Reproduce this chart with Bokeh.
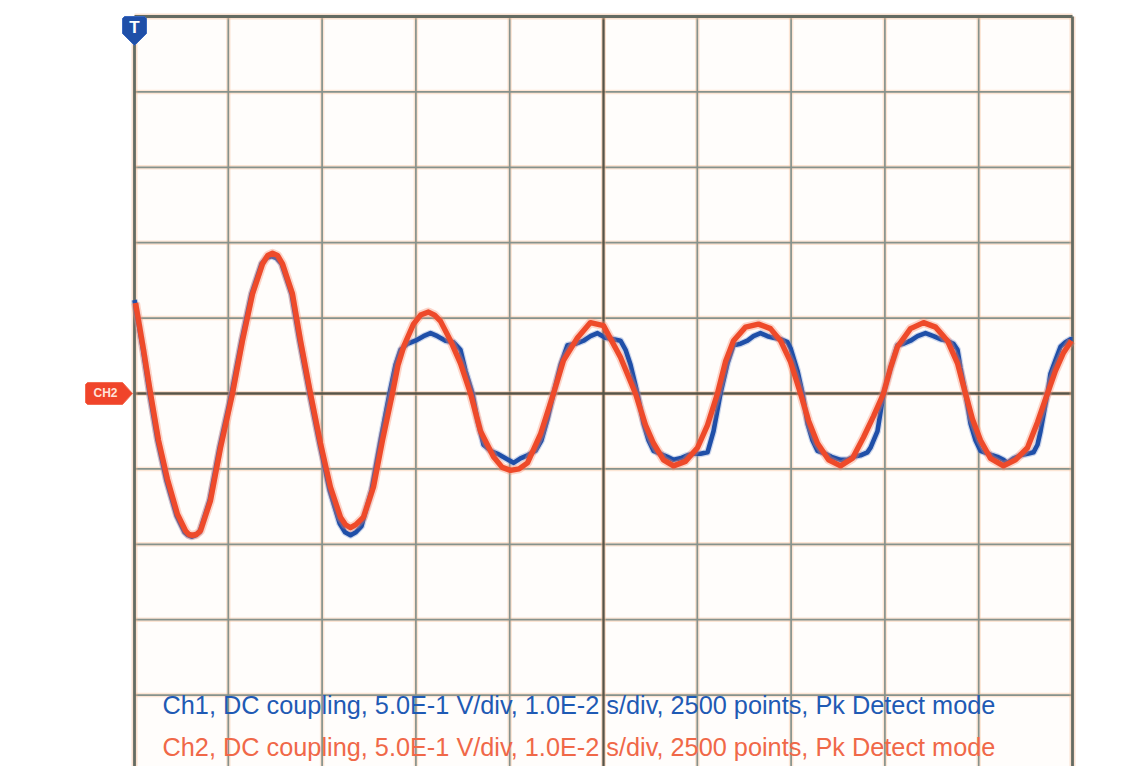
from bokeh.plotting import figure
from bokeh.models import Range1d
from bokeh.core.properties import value
from bokeh.embed import file_html
from bokeh.resources import INLINE

# ---------------- data (time in ms, voltage in V) ----------------
ch1_t = [0.00, 0.90, 1.60, 2.45, 3.41, 4.48, 5.33, 5.70, 6.08, 6.50, 6.93, 8.00, 9.06, 10.34, 11.41, 12.47,
         13.54, 14.10, 14.61, 15.10, 15.67, 16.74, 17.59, 18.66, 19.72, 20.79, 21.86, 22.45, 23.03, 23.60, 24.20, 25.27,
         26.23, 27.19, 27.83, 28.36, 29.10, 29.95, 30.81, 31.56, 32.30, 33.16, 34.01, 34.75,
         35.29, 36.03, 36.57, 37.21, 37.95, 38.70, 39.55, 40.41, 41.15, 41.90, 42.75, 43.39,
         44.03, 44.67, 45.42, 46.16, 47.02, 47.87, 48.61, 49.36, 50.21, 51.07, 51.81, 52.35,
         52.88, 53.62, 54.26, 54.80, 55.33, 56.07, 56.82, 57.46, 58.20, 58.95, 59.59, 60.34,
         61.09, 61.73, 62.47, 63.22, 63.86, 64.61, 65.35, 65.99, 66.74, 67.48, 68.12, 68.87,
         69.62, 69.94, 70.68, 71.22, 71.75, 72.28, 72.81, 73.67, 74.31, 75.27, 76.01, 76.65,
         77.40, 78.14, 78.46, 79.21, 79.85, 80.60, 81.34, 81.98, 82.73, 83.48, 84.33, 85.18,
         85.93, 86.67, 87.31, 87.74, 88.06, 88.59, 89.13, 89.66, 90.19, 91.04, 92.00, 92.64,
         93.07, 93.71, 94.46, 95.20, 95.84, 96.27, 96.59, 97.33, 97.65, 98.18, 98.72, 99.25,
         99.79, 100.00]
ch1_v = [0.62, 0.29, 0.00, -0.31, -0.58, -0.81, -0.92, -0.94, -0.95, -0.94, -0.92, -0.71, -0.36, 0.00, 0.35, 0.66,
         0.86, 0.90, 0.91, 0.90, 0.86, 0.66, 0.35, 0.00, -0.33, -0.64, -0.86, -0.92, -0.94, -0.92, -0.88, -0.64,
         -0.31, 0.00, 0.19, 0.29, 0.33, 0.35, 0.38, 0.40, 0.38, 0.35, 0.34, 0.29,
         0.15, 0.00, -0.18, -0.34, -0.38, -0.40, -0.43, -0.46, -0.43, -0.41, -0.38, -0.31,
         -0.17, 0.00, 0.19, 0.32, 0.33, 0.35, 0.38, 0.40, 0.37, 0.36, 0.35, 0.29,
         0.19, 0.00, -0.20, -0.31, -0.38, -0.40, -0.42, -0.44, -0.43, -0.41, -0.40, -0.40,
         -0.39, -0.25, 0.00, 0.20, 0.32, 0.33, 0.35, 0.38, 0.40, 0.38, 0.37, 0.36,
         0.34, 0.30, 0.15, 0.00, -0.20, -0.31, -0.38, -0.40, -0.42, -0.44, -0.44, -0.42,
         -0.41, -0.39, -0.36, -0.25, 0.00, 0.17, 0.32, 0.33, 0.35, 0.38, 0.40, 0.38,
         0.36, 0.35, 0.33, 0.29, 0.17, 0.00, -0.20, -0.31, -0.38, -0.40, -0.42, -0.44,
         -0.46, -0.43, -0.41, -0.40, -0.39, -0.34, -0.25, 0.00, 0.13, 0.22, 0.31, 0.34,
         0.36, 0.36]

ch2_t = [0.11, 0.96, 1.71, 2.56, 3.52, 4.58, 5.44, 5.80, 6.18, 6.60, 7.04, 8.10, 9.17, 10.45, 11.51, 12.58,
         13.65, 14.20, 14.71, 15.25, 15.78, 16.84, 17.70, 18.76, 19.83, 20.89, 21.96, 22.50, 23.03, 23.60, 24.41, 25.48,
         26.44, 27.50, 28.10, 28.75, 29.74, 30.50, 31.34, 32.00, 32.62, 33.69, 34.75, 35.82, 36.89, 38.27,
         39.20, 40.09, 41.00, 41.90, 43.28, 44.67, 45.74, 47.23, 48.61, 50.00, 51.81, 53.41, 54.48, 55.33,
         56.39, 57.46, 58.74, 60.02, 61.09, 62.15, 63.00, 63.86, 65.14, 66.52, 67.80, 68.87,
         69.94, 71.00, 71.86, 72.81, 73.99, 75.27, 76.55, 77.72, 78.79, 79.85, 80.60, 81.34,
         82.73, 84.12, 85.40, 86.67, 87.74, 88.59, 89.34, 90.19, 91.26, 92.64, 93.92, 95.20,
         96.27, 97.33, 98.18, 99.04, 99.89]
ch2_v = [0.60, 0.29, 0.00, -0.31, -0.57, -0.80, -0.91, -0.935, -0.94, -0.935, -0.91, -0.71, -0.36, 0.00, 0.35, 0.66,
         0.86, 0.915, 0.93, 0.915, 0.86, 0.66, 0.35, 0.00, -0.33, -0.62, -0.82, -0.87, -0.89, -0.87, -0.82, -0.62,
         -0.31, 0.00, 0.19, 0.32, 0.46, 0.52, 0.54, 0.52, 0.48, 0.35, 0.20, 0.00, -0.25, -0.42,
         -0.49, -0.51, -0.50, -0.46, -0.27, 0.00, 0.22, 0.37, 0.47, 0.45, 0.24, 0.00, -0.21, -0.33,
         -0.44, -0.48, -0.45, -0.36, -0.21, 0.00, 0.21, 0.35, 0.44, 0.46, 0.43, 0.35,
         0.21, 0.00, -0.18, -0.33, -0.44, -0.48, -0.43, -0.29, -0.15, 0.00, 0.17, 0.31,
         0.43, 0.47, 0.44, 0.35, 0.20, 0.00, -0.17, -0.31, -0.43, -0.48, -0.44, -0.36,
         -0.19, 0.00, 0.15, 0.27, 0.35]

time_divs = [0, 10, 20, 30, 40, 50, 60, 70, 80, 90, 100]          # ms, 1.0E-2 s/div
volt_divs = [2.5, 2.0, 1.5, 1.0, 0.5, 0.0, -0.5, -1.0, -1.5, -2.0]  # V, 5.0E-1 V/div
ch1_label = "Ch1, DC coupling, 5.0E-1 V/div, 1.0E-2 s/div, 2500 points, Pk Detect mode"
ch2_label = "Ch2, DC coupling, 5.0E-1 V/div, 1.0E-2 s/div, 2500 points, Pk Detect mode"

# ---------------- layout ----------------
W, H = 1140, 766
X0, X1 = -14.286, 107.249
Y0, Y1 = -2.4735, 2.606
sx = W / (X1 - X0)   # px per ms
sy = H / (Y1 - Y0)   # px per V

p = figure(width=W, height=H, output_backend="svg", toolbar_location=None,
           x_range=Range1d(X0, X1), y_range=Range1d(Y0, Y1),
           x_axis_type=None, y_axis_type=None, min_border=0,
           background_fill_color="white", border_fill_color="white")
p.outline_line_color = None
p.grid.visible = False

t_lo, t_hi = time_divs[0], time_divs[-1]
v_top = volt_divs[0]
v_bot = -v_top

# screen background
p.quad(left=[t_lo], right=[t_hi], bottom=[v_bot], top=[v_top],
       fill_color="#fffdfb", line_color=None)

# grid: orange halo then grey line
inner_t = [t for t in time_divs if t not in (t_lo, t_hi, 50)]
inner_v = [v for v in volt_divs if v not in (v_top, 0.0)]
for col, w, a in (("#f7c09c", 4.5, 0.4), ("#86928c", 1.7, 1.0)):
    p.segment(x0=inner_t, x1=inner_t, y0=[v_bot] * len(inner_t), y1=[v_top] * len(inner_t),
              line_color=col, line_width=w, line_alpha=a)
    p.segment(x0=[t_lo] * len(inner_v), x1=[t_hi] * len(inner_v), y0=inner_v, y1=inner_v,
              line_color=col, line_width=w, line_alpha=a)
# center lines
for col, w, a in (("#f2b48c", 5, 0.4), ("#575447", 2.3, 1.0)):
    p.segment(x0=[50], x1=[50], y0=[v_bot], y1=[v_top], line_color=col, line_width=w, line_alpha=a)
    p.segment(x0=[t_lo], x1=[t_hi], y0=[0], y1=[0], line_color=col, line_width=w, line_alpha=a)
# borders
for col, w, a in (("#f2b48c", 6, 0.4), ("#646b62", 2.8, 1.0)):
    p.segment(x0=[t_lo, t_hi], x1=[t_lo, t_hi], y0=[v_bot, v_bot], y1=[v_top, v_top],
              line_color=col, line_width=w, line_alpha=a)
    p.segment(x0=[t_lo], x1=[t_hi], y0=[v_top], y1=[v_top], line_color=col, line_width=w, line_alpha=a)

# traces: Ch1 (blue) under Ch2 (red)
p.line(ch1_t, ch1_v, line_color="#6f8fd0", line_width=7, line_alpha=0.35, line_join="round")
p.line(ch1_t, ch1_v, line_color="#1f4fa8", line_width=4.6, line_join="round")
p.line(ch2_t, ch2_v, line_color="#f6866a", line_width=9, line_alpha=0.35, line_join="round")
p.line(ch2_t, ch2_v, line_color="#ee4a2a", line_width=5.4, line_join="round")


def shape(t0, v0, offs):
    return ([t0 + dx / sx for dx, dy in offs], [v0 - dy / sy for dx, dy in offs])


# trigger marker "T" at t=0, top of screen
tx, ty = shape(t_lo, v_top, [(-12, 2), (-10, 0), (10, 0), (12, 2), (12, 17), (0, 29), (-12, 17)])
p.patch(tx, ty, fill_color="#1f4fa8", line_color="#3a68bf", line_width=1)
p.text(x=[t_lo], y=[v_top - 11 / sy], text=["T"], text_color="white",
       text_font=value("Liberation Sans"), text_font_size="17px", text_font_style="bold",
       text_align="center", text_baseline="middle")

# Ch2 ground marker at 0 V
cx, cy = shape(t_lo, 0.0, [(-49, -9), (-47, -11), (-12, -11), (-2, 0), (-12, 11), (-47, 11), (-49, 9)])
p.patch(cx, cy, fill_color="#f0442a", line_color="#f36a50", line_width=1)
p.text(x=[t_lo - 29 / sx], y=[0.0], text=["CH2"], text_color="#ffe2da",
       text_font=value("Liberation Sans"), text_font_size="12px", text_font_style="bold",
       text_align="center", text_baseline="middle")

# channel descriptions
p.text(x=[t_lo + 28 / sx], y=[-312 / sy], text=[ch1_label], text_color="#1f5ab4",
       text_font=value("Liberation Sans"), text_font_size="25.3px",
       text_align="left", text_baseline="alphabetic")
p.text(x=[t_lo + 28 / sx], y=[-354 / sy], text=[ch2_label], text_color="#f06848",
       text_font=value("Liberation Sans"), text_font_size="25.3px",
       text_align="left", text_baseline="alphabetic")

open("out.html", "w").write(file_html(p, INLINE))
